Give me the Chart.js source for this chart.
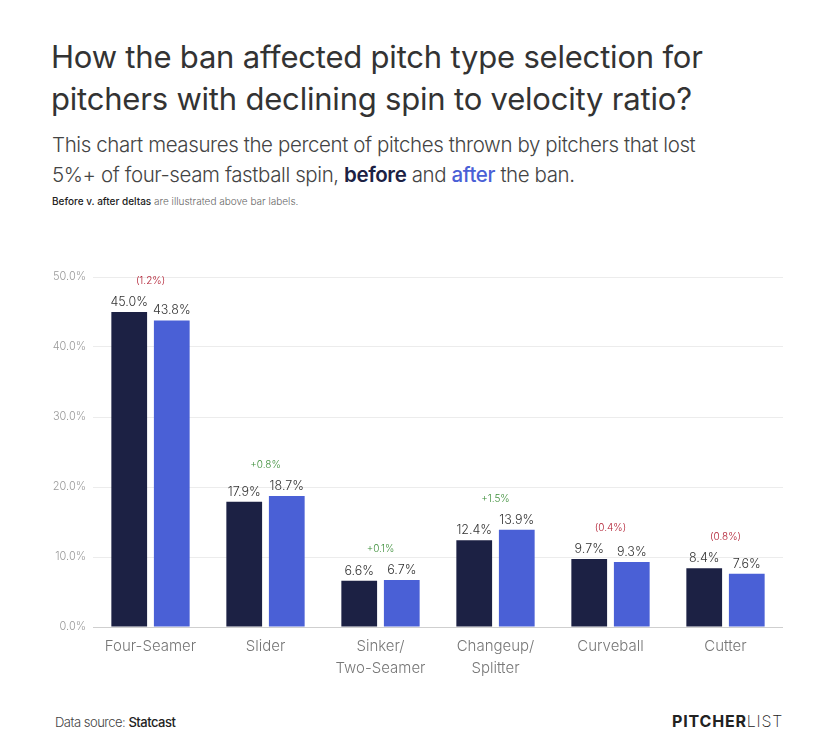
<!DOCTYPE html>
<html>
<head>
<meta charset="utf-8">
<script src="https://cdn.jsdelivr.net/npm/chart.js@4/dist/chart.umd.min.js"></script>
<style>
  html, body { margin: 0; padding: 0; background: #fff; }
  body { width: 829px; height: 745px; position: relative; overflow: hidden; font-family: Inter, "Noto Sans", sans-serif; }
  .title { position: absolute; left: 51px; top: 36px; font-size: 31px; line-height: 42px; color: #333; letter-spacing: -0.2px; font-weight: 400; }
  .sub { position: absolute; left: 52px; top: 130px; font-size: 20.5px; line-height: 30px; color: #444; letter-spacing: -0.4px; font-weight: 300; }
  .sub .b { color: #1c2144; font-weight: 600; }
  .sub .a { color: #4a60d6; font-weight: 500; }
  .note { position: absolute; left: 52px; top: 195px; font-size: 10px; color: #666; letter-spacing: 0px; font-weight: 300; }
  .note b { color: #222; font-weight: 500; }
  .src { position: absolute; left: 55px; top: 714px; font-size: 13px; color: #444; letter-spacing: -0.5px; font-weight: 300; }
  .src b { color: #222; font-weight: 500; }
  .logo { position: absolute; right: 46px; top: 711px; font-size: 16px; color: #222; letter-spacing: 0.8px; }
  .logo b { font-weight: 700; }
  .logo span { font-weight: 200; }
  #wrap { position: absolute; left: 0; top: 250px; width: 829px; height: 450px; }
</style>
</head>
<body>
<div class="title">How the ban affected pitch type selection for<br>pitchers with declining spin to velocity ratio?</div>
<div class="sub">This chart measures the percent of pitches thrown by pitchers that lost<br>5%+ of four-seam fastball spin, <span class="b">before</span> and <span class="a">after</span> the ban.</div>
<div class="note"><b>Before v. after deltas</b> are illustrated above bar labels.</div>
<div id="wrap"><canvas id="chart"></canvas></div>
<div class="src">Data source: <b>Statcast</b></div>
<div class="logo"><b>PITCHER</b><span>LIST</span></div>
<script>
var categories = ['Four-Seamer', 'Slider', ['Sinker/', 'Two-Seamer'], ['Changeup/', 'Splitter'], 'Curveball', 'Cutter'];
var before = [45.0, 17.9, 6.6, 12.4, 9.7, 8.4];
var after = [43.8, 18.7, 6.7, 13.9, 9.3, 7.6];
var deltas = ['(1.2%)', '+0.8%', '+0.1%', '+1.5%', '(0.4%)', '(0.8%)'];
var yTicks = [0, 10, 20, 30, 40, 50];

// value labels on top of bars + delta labels above each pair
var labelPlugin = {
    id: 'barLabels',
    afterDatasetsDraw: function (chart) {
        var ctx = chart.ctx,
            yScale = chart.scales.y,
            xScale = chart.scales.x;
        ctx.save();
        ctx.textAlign = 'center';
        ctx.textBaseline = 'alphabetic';
        ctx.font = '300 12.5px Inter, sans-serif';
        ctx.fillStyle = '#333';
        chart.data.datasets.forEach(function (ds, di) {
            chart.getDatasetMeta(di).data.forEach(function (bar, i) {
                ctx.fillText(ds.data[i].toFixed(1) + '%', bar.x, bar.y - 6);
            });
        });
        ctx.font = '300 10px Inter, sans-serif';
        for (var i = 0; i < deltas.length; i++) {
            var top = yScale.getPixelForValue(Math.max(before[i], after[i]));
            ctx.fillStyle = deltas[i].charAt(0) == '(' ? '#b01a2e' : '#3d8f3a';
            ctx.fillText(deltas[i], xScale.getPixelForValue(i), top - 28);
        }
        ctx.restore();
    }
};

var myChart = new Chart(document.getElementById('chart'), {
    type: 'bar',
    data: {
        labels: categories,
        datasets: [
            { label: 'Before', data: before, backgroundColor: '#1c2144' },
            { label: 'After', data: after, backgroundColor: '#4a60d6' }
        ]
    },
    options: {
        responsive: true,
        maintainAspectRatio: false,
        animation: false,
        categoryPercentage: 0.74,
        barPercentage: 0.84,
        layout: { padding: { left: 40, right: 46, top: 27, bottom: 0 } },
        plugins: { legend: { display: false }, tooltip: { enabled: false } },
        scales: {
            x: {
                grid: { display: false },
                border: { display: false },
                ticks: { color: '#777', font: { family: 'Inter', size: 15, weight: 300, lineHeight: 1.47 }, padding: 0, maxRotation: 0, autoSkip: false },
                afterFit: function (s) { s.height = 73; }
            },
            y: {
                min: 0,
                max: 50,
                afterBuildTicks: function (s) { s.ticks = yTicks.map(function (v) { return { value: v }; }); },
                grid: {
                    drawTicks: false,
                    color: function (c) { return c.tick && c.tick.value === 0 ? '#cfcfcf' : '#ececec'; }
                },
                border: { display: false },
                ticks: {
                    padding: 7,
                    color: '#999',
                    font: { family: 'Inter', size: 11, weight: 300 },
                    callback: function (v) { return v.toFixed(1) + '%'; }
                },
                afterFit: function (s) { s.width = 53; }
            }
        }
    },
    plugins: [labelPlugin]
});
</script>
</body>
</html>
